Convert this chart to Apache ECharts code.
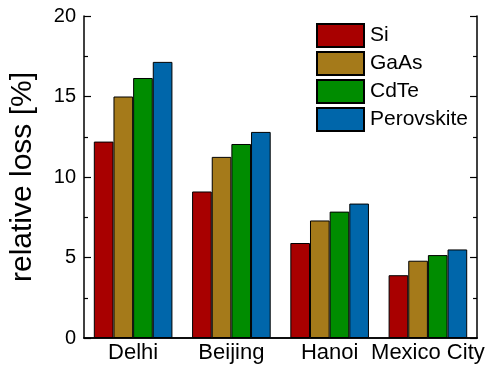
<!DOCTYPE html>
<html>
<head>
<meta charset="utf-8">
<script src="https://cdn.jsdelivr.net/npm/echarts@6/dist/echarts.min.js"></script>
<style>
  html, body { margin: 0; padding: 0; background: #fff; }
  #chart { width: 487px; height: 368px; }
</style>
</head>
<body>
<div id="chart"></div>
<script>
// Cities on the category axis
const cities = ['Delhi', 'Beijing', 'Hanoi', 'Mexico City'];

// Relative loss [%] per absorber technology
const si = [12.2, 9.1, 5.9, 3.9];
const gaas = [15.0, 11.25, 7.3, 4.8];
const cdte = [16.15, 12.05, 7.85, 5.15];
const perovskite = [17.15, 12.8, 8.35, 5.5];

// Y axis range and tick spacing
const yMin = 0;
const yMax = 20;
const yStep = 5;

const FONT = 'Liberation Sans, Arial, Helvetica, sans-serif';

const seriesDefs = [
  { name: 'Si', data: si, color: '#A80000' },
  { name: 'GaAs', data: gaas, color: '#A57A1A' },
  { name: 'CdTe', data: cdte, color: '#008C00' },
  { name: 'Perovskite', data: perovskite, color: '#0066AA' }
];

const chart = echarts.init(document.getElementById('chart'), null, { renderer: 'canvas' });

const axisLineStyle = { color: '#000', width: 1.5 };

chart.setOption({
  animation: false,
  backgroundColor: '#fff',
  grid: { left: 79, right: 9, top: 16, bottom: 30, containLabel: false },
  legend: {
    orient: 'vertical',
    left: 316,
    top: 23,
    padding: 0,
    itemWidth: 47,
    itemHeight: 23,
    itemGap: 3,
    icon: 'rect',
    textStyle: { fontFamily: FONT, fontSize: 21, color: '#000', padding: [0, 0, 0, 1] },
    data: seriesDefs.map(s => s.name)
  },
  xAxis: [
    {
      type: 'category',
      data: cities,
      position: 'bottom',
      axisLine: { lineStyle: axisLineStyle },
      axisTick: { show: false },
      axisLabel: { fontFamily: FONT, fontSize: 22, color: '#000', margin: 4, interval: 0 },
      splitLine: { show: false }
    },
    {
      type: 'category',
      data: cities,
      position: 'top',
      axisLine: { lineStyle: axisLineStyle },
      axisTick: { show: false },
      axisLabel: { show: false },
      splitLine: { show: false }
    }
  ],
  yAxis: [
    {
      type: 'value',
      min: yMin,
      max: yMax,
      interval: yStep,
      position: 'left',
      name: 'relative loss [%]',
      nameLocation: 'middle',
      nameGap: 46,
      nameTextStyle: { fontFamily: FONT, fontSize: 30, color: '#000' },
      axisLine: { show: true, lineStyle: axisLineStyle },
      axisTick: { show: true, inside: true, length: 7, lineStyle: { color: '#000', width: 1.2 } },
      minorTick: { show: true, splitNumber: 2, length: 4, lineStyle: { color: '#000', width: 1.2 } },
      axisLabel: { fontFamily: FONT, fontSize: 20, color: '#000', margin: 8 },
      splitLine: { show: false }
    },
    {
      type: 'value',
      min: yMin,
      max: yMax,
      interval: yStep,
      position: 'right',
      axisLine: { show: true, lineStyle: axisLineStyle },
      axisTick: { show: true, inside: true, length: 7, lineStyle: { color: '#000', width: 1.2 } },
      minorTick: { show: true, splitNumber: 2, length: 4, lineStyle: { color: '#000', width: 1.2 } },
      axisLabel: { show: false },
      splitLine: { show: false }
    }
  ],
  series: seriesDefs.map(s => ({
    name: s.name,
    type: 'bar',
    data: s.data,
    barGap: '0%',
    barCategoryGap: '20%',
    itemStyle: { color: s.color, borderColor: '#000', borderWidth: 1 }
  }))
});
</script>
</body>
</html>
